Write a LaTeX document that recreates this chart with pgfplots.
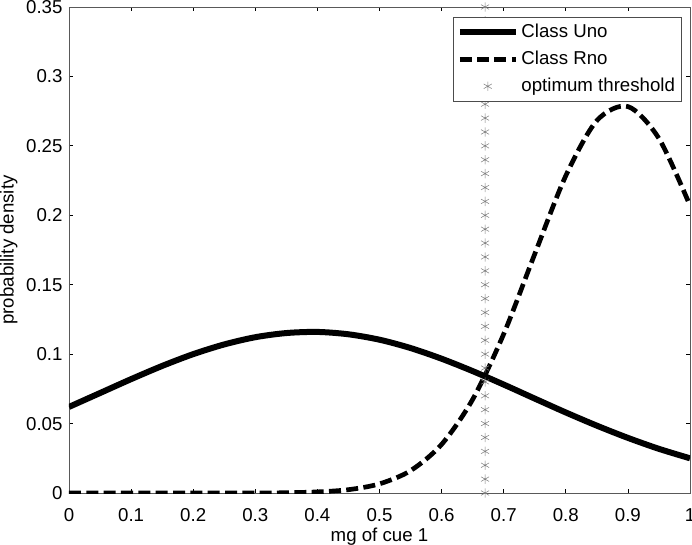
\documentclass[border=0pt]{standalone}
\usepackage{fontspec}
\setmainfont{Liberation Sans}
\usepackage{pgfplots}
\pgfplotsset{compat=1.18}

\pgfplotstableread{
x     y
0.00  0.0620
0.05  0.0720
0.10  0.0820
0.15  0.0915
0.20  0.1000
0.25  0.1070
0.30  0.1122
0.35  0.1152
0.40  0.1160
0.45  0.1143
0.50  0.1104
0.55  0.1044
0.60  0.0967
0.65  0.0878
0.70  0.0781
0.75  0.0680
0.80  0.0580
0.85  0.0485
0.90  0.0397
0.95  0.0318
1.00  0.0250
}\uno

\pgfplotstableread{
x     y
0.00  0.0000
0.05  0.0000
0.10  0.0000
0.15  0.0000
0.20  0.0000
0.25  0.0000
0.30  0.0000
0.35  0.0002
0.40  0.0008
0.45  0.0024
0.50  0.0066
0.55  0.0161
0.60  0.0350
0.65  0.0674
0.70  0.1145
0.75  0.1721
0.80  0.2285
0.85  0.2682
0.90  0.2783
0.95  0.2553
1.00  0.2070
}\rno

\begin{document}
\fontsize{14}{16}\selectfont
\begin{tikzpicture}
\begin{axis}[
  scale only axis,width=465.75pt,height=364.5pt,
  xmin=0,xmax=1,ymin=0,ymax=0.35,
  xtick={0,0.1,...,1},ytick={0,0.05,...,0.35},
  /pgf/number format/fixed,/pgf/number format/precision=2,
  /pgf/number format/assume math mode=true,
  tick align=inside,major tick length=3pt,
  axis line style={draw=black!65},
  tick style={black,line width=0.6pt},
  xticklabel style={yshift=-7pt},
  xlabel={mg of cue 1},ylabel={probability density},
  xlabel style={yshift=5pt},
  ylabel shift=-3pt,
  clip mode=individual,
  legend style={at={(0.987,0.979)},anchor=north east,draw=black!70,
    font=\fontsize{14}{16}\selectfont,row sep=4pt,inner sep=3pt},
  legend cell align=left,
  legend image code/.code={\draw[#1] (0pt,0pt) -- (42pt,0pt);},
]
\addplot[black,line width=4.5pt,smooth] table[x=x,y=y] {\uno};
\addlegendentry{Class Uno}
\addplot[black,line width=3.5pt,dash pattern=on 9pt off 4pt,smooth] table[x=x,y=y] {\rno};
\addlegendentry{Class Rno}
\addplot[only marks,mark=asterisk,mark size=3.5pt,black!50,
  legend image code/.code={\draw[mark repeat=2,mark phase=2] plot coordinates {(0pt,0pt) (21pt,0pt) (42pt,0pt)};}]
  coordinates {
(0.67,0.00)(0.67,0.01)(0.67,0.02)(0.67,0.03)(0.67,0.04)(0.67,0.05)
(0.67,0.06)(0.67,0.07)(0.67,0.08)(0.67,0.09)(0.67,0.10)(0.67,0.11)
(0.67,0.12)(0.67,0.13)(0.67,0.14)(0.67,0.15)(0.67,0.16)(0.67,0.17)
(0.67,0.18)(0.67,0.19)(0.67,0.20)(0.67,0.21)(0.67,0.22)(0.67,0.23)
(0.67,0.24)(0.67,0.25)(0.67,0.26)(0.67,0.27)(0.67,0.28)(0.67,0.29)
(0.67,0.30)(0.67,0.31)(0.67,0.32)(0.67,0.33)(0.67,0.34)(0.67,0.35)
};
\addlegendentry{optimum threshold}
\end{axis}
\pgfresetboundingbox
\path[use as bounding box] ([shift={(-51.75pt,-38.25pt)}]current axis.south west)
  rectangle ([shift={(1.5pt,5.25pt)}]current axis.north east);
\end{tikzpicture}
\end{document}
